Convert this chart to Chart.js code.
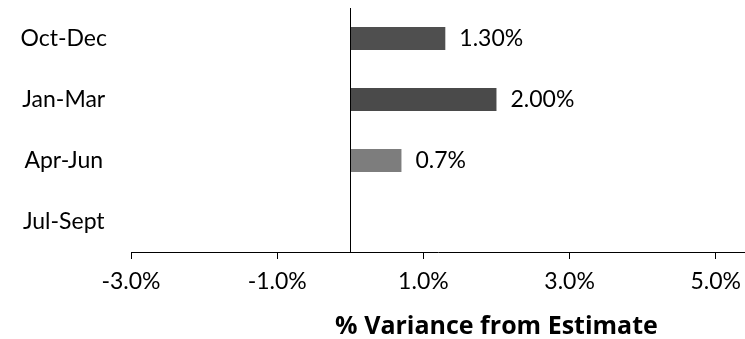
<!DOCTYPE html>
<html>
<head>
<meta charset="utf-8">
<script src="https://cdn.jsdelivr.net/npm/chart.js@4.4.1/dist/chart.umd.min.js"></script>
<style>
  body { margin: 0; background: #fff; }
  #caixa { width: 745px; height: 339px; }
</style>
</head>
<body>
<div id="caixa"><canvas id="graficoVariancia"></canvas></div>
<script>
// dados
var trimestres = ['Oct-Dec', 'Jan-Mar', 'Apr-Jun', 'Jul-Sept']
var variancia = [1.3, 2.0, 0.7, null]
var rotulos = ['1.30%', '2.00%', '0.7%', '']
var marcasX = [-3, -1, 1, 3, 5]
var coresBarras = ['#4f4f4f', '#4a4a4a', '#7d7d7d', '#7d7d7d']

var fonte = 'Lato, "Open Sans", sans-serif'

// linha vertical no zero
var linhaZero = {
    id: 'linhaZero',
    afterDatasetsDraw: function (chart) {
        var ctx = chart.ctx
        var x = Math.round(chart.scales.x.getPixelForValue(0)) + 0.5
        ctx.save()
        ctx.strokeStyle = '#000'
        ctx.lineWidth = 1
        ctx.beginPath()
        ctx.moveTo(x, chart.chartArea.top)
        ctx.lineTo(x, chart.chartArea.bottom)
        ctx.stroke()
        ctx.restore()
    }
}

// rotulos no fim das barras + titulo do eixo
var rotulosBarras = {
    id: 'rotulosBarras',
    afterDraw: function (chart) {
        var ctx = chart.ctx
        var meta = chart.getDatasetMeta(0)
        ctx.save()
        ctx.fillStyle = '#000'
        ctx.font = '23px ' + fonte
        ctx.textAlign = 'left'
        ctx.textBaseline = 'middle'
        meta.data.forEach(function (barra, i) {
            if (rotulos[i]) {
                ctx.fillText(rotulos[i], barra.x + 14, barra.y)
            }
        })
        ctx.font = 'bold 25px "Open Sans", Lato, sans-serif'
        ctx.textAlign = 'center'
        ctx.textBaseline = 'alphabetic'
        ctx.fillText('% Variance from Estimate', chart.scales.x.getPixelForValue(2), 334)
        ctx.restore()
    }
}

var config = {
    type: 'bar',
    data: {
        labels: trimestres,
        datasets: [{
            label: '% Variance',
            data: variancia,
            backgroundColor: coresBarras,
            borderWidth: 0,
            categoryPercentage: 0.75,
            barPercentage: 0.5
        }]
    },
    options: {
        indexAxis: 'y',
        responsive: true,
        maintainAspectRatio: false,
        animation: false,
        layout: { padding: { top: 8, right: 0, left: 0, bottom: 0 } },
        plugins: {
            legend: { display: false },
            tooltip: { enabled: false }
        },
        scales: {
            x: {
                min: -3,
                max: 5.4,
                afterBuildTicks: function (escala) {
                    escala.ticks = marcasX.map(function (v) { return { value: v } })
                },
                afterFit: function (escala) {
                    escala.height = 87
                    escala.paddingLeft = 0
                    escala.paddingRight = 0
                },
                grid: {
                    drawOnChartArea: false,
                    drawTicks: true,
                    tickLength: 7,
                    color: '#000'
                },
                border: { display: true, color: '#000', width: 1 },
                ticks: {
                    color: '#000',
                    padding: 9,
                    maxRotation: 0,
                    font: { family: fonte, size: 23 },
                    callback: function (v) { return v.toFixed(1) + '%' }
                }
            },
            y: {
                afterFit: function (escala) {
                    escala.width = 131
                    escala.paddingTop = 0
                    escala.paddingBottom = 0
                },
                grid: { display: false, drawTicks: false },
                border: { display: false },
                ticks: {
                    color: '#000',
                    crossAlign: 'center',
                    padding: 24,
                    font: { family: fonte, size: 23 }
                }
            }
        }
    },
    plugins: [linhaZero, rotulosBarras]
}

var myChart = new Chart(document.getElementById('graficoVariancia'), config)
</script>
</body>
</html>
